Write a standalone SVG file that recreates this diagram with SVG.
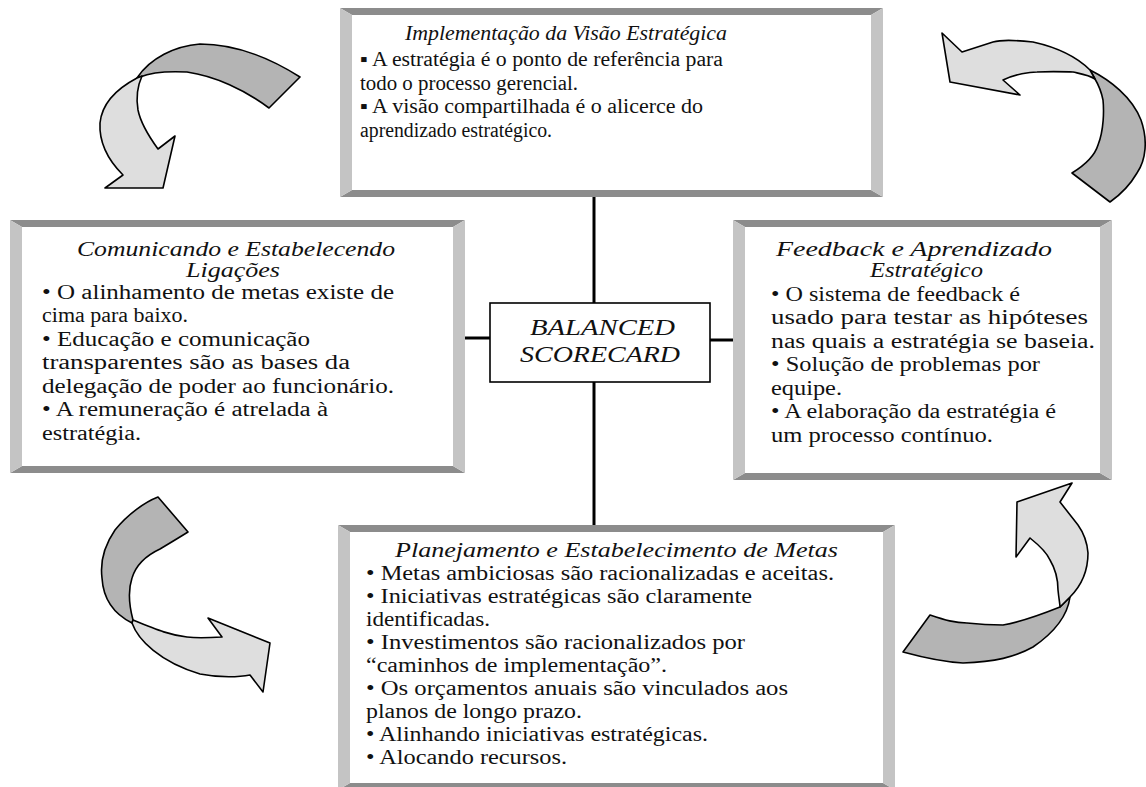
<svg xmlns="http://www.w3.org/2000/svg" width="1146" height="787" viewBox="0 0 1146 787">
  <style>
    .bg { fill: #ffffff; }
    .face { fill: #ffffff; }
    .edge-dark { fill: #8c8c8c; }
    .edge-light { fill: #c4c4c4; }
    text { font-family: 'Liberation Serif', 'DejaVu Serif', Tinos, 'Nimbus Roman', FreeSerif, 'Times New Roman', Times, serif; fill: #111; }
    .title { font-style: italic; font-size: 20px; }
    .body { font-size: 20px; }
    .core { font-style: italic; font-size: 23px; }
    .link { stroke: #000; stroke-width: 3; fill: none; }
    .tail { fill: #b4b4b4; stroke: #000; stroke-width: 1.6; stroke-linejoin: round; }
    .head { fill: #dedede; stroke: #000; stroke-width: 1.6; stroke-linejoin: round; }
  </style>

  <rect class="bg" x="0" y="0" width="1146" height="787"/>

  <!-- connectors from the central box to the four frames -->
  <g id="connectors">
    <line class="link" x1="594" y1="196" x2="594" y2="303"/>
    <line class="link" x1="594" y1="382" x2="594" y2="527"/>
    <line class="link" x1="464" y1="338" x2="490" y2="338"/>
    <line class="link" x1="710" y1="340" x2="734" y2="340"/>
  </g>

  <!-- top frame -->
  <g id="node-implementacao">
    <rect class="face" x="340" y="8" width="543" height="189"/>
    <polygon class="edge-dark" points="340,8 883,8 871,15 352,15"/>
    <polygon class="edge-dark" points="352,190 871,190 883,197 340,197"/>
    <polygon class="edge-light" points="340,8 352,15 352,190 340,197"/>
    <polygon class="edge-light" points="883,8 871,15 871,190 883,197"/>
    <text class="title" x="405" y="40" textLength="322" lengthAdjust="spacingAndGlyphs">Implementação da Visão Estratégica</text>
    <text class="body" x="360" y="66" textLength="363" lengthAdjust="spacingAndGlyphs">▪ A estratégia é o ponto de referência para</text>
    <text class="body" x="360" y="90" textLength="218" lengthAdjust="spacingAndGlyphs">todo o processo gerencial.</text>
    <text class="body" x="360" y="113" textLength="343" lengthAdjust="spacingAndGlyphs">▪ A visão compartilhada é o alicerce do</text>
    <text class="body" x="360" y="137" textLength="192" lengthAdjust="spacingAndGlyphs">aprendizado estratégico.</text>
  </g>

  <!-- left frame -->
  <g id="node-comunicando">
    <rect class="face" x="10" y="220" width="455" height="253"/>
    <polygon class="edge-dark" points="10,220 465,220 453,227 22,227"/>
    <polygon class="edge-dark" points="22,466 453,466 465,473 10,473"/>
    <polygon class="edge-light" points="10,220 22,227 22,466 10,473"/>
    <polygon class="edge-light" points="465,220 453,227 453,466 465,473"/>
    <text class="title" x="77" y="256" textLength="318" lengthAdjust="spacingAndGlyphs">Comunicando e Estabelecendo</text>
    <text class="title" x="186" y="277" textLength="94" lengthAdjust="spacingAndGlyphs">Ligações</text>
    <text class="body" x="42" y="299" textLength="352" lengthAdjust="spacingAndGlyphs">• O alinhamento de metas existe de</text>
    <text class="body" x="42" y="322" textLength="146" lengthAdjust="spacingAndGlyphs">cima para baixo.</text>
    <text class="body" x="42" y="346" textLength="268" lengthAdjust="spacingAndGlyphs">• Educação e comunicação</text>
    <text class="body" x="42" y="369" textLength="308" lengthAdjust="spacingAndGlyphs">transparentes são as bases da</text>
    <text class="body" x="42" y="393" textLength="352" lengthAdjust="spacingAndGlyphs">delegação de poder ao funcionário.</text>
    <text class="body" x="42" y="416" textLength="286" lengthAdjust="spacingAndGlyphs">• A remuneração é atrelada à</text>
    <text class="body" x="42" y="440" textLength="99" lengthAdjust="spacingAndGlyphs">estratégia.</text>
  </g>

  <!-- right frame -->
  <g id="node-feedback">
    <rect class="face" x="733" y="220" width="379" height="260"/>
    <polygon class="edge-dark" points="733,220 1112,220 1100,227 745,227"/>
    <polygon class="edge-dark" points="745,473 1100,473 1112,480 733,480"/>
    <polygon class="edge-light" points="733,220 745,227 745,473 733,480"/>
    <polygon class="edge-light" points="1112,220 1100,227 1100,473 1112,480"/>
    <text class="title" x="776" y="256" textLength="276" lengthAdjust="spacingAndGlyphs">Feedback e Aprendizado</text>
    <text class="title" x="870" y="277" textLength="113" lengthAdjust="spacingAndGlyphs">Estratégico</text>
    <text class="body" x="771" y="301" textLength="249" lengthAdjust="spacingAndGlyphs">• O sistema de feedback é</text>
    <text class="body" x="771" y="324" textLength="317" lengthAdjust="spacingAndGlyphs">usado para testar as hipóteses</text>
    <text class="body" x="771" y="348" textLength="324" lengthAdjust="spacingAndGlyphs">nas quais a estratégia se baseia.</text>
    <text class="body" x="771" y="371" textLength="269" lengthAdjust="spacingAndGlyphs">• Solução de problemas por</text>
    <text class="body" x="771" y="395" textLength="71" lengthAdjust="spacingAndGlyphs">equipe.</text>
    <text class="body" x="771" y="418" textLength="285" lengthAdjust="spacingAndGlyphs">• A elaboração da estratégia é</text>
    <text class="body" x="771" y="442" textLength="222" lengthAdjust="spacingAndGlyphs">um processo contínuo.</text>
  </g>

  <!-- bottom frame -->
  <g id="node-planejamento">
    <rect class="face" x="338" y="525" width="557" height="265"/>
    <polygon class="edge-dark" points="338,525 895,525 883,532 350,532"/>
    <polygon class="edge-dark" points="350,783 883,783 895,790 338,790"/>
    <polygon class="edge-light" points="338,525 350,532 350,783 338,790"/>
    <polygon class="edge-light" points="895,525 883,532 883,783 895,790"/>
    <text class="title" x="395" y="557" textLength="443" lengthAdjust="spacingAndGlyphs">Planejamento e Estabelecimento de Metas</text>
    <text class="body" x="366" y="580" textLength="468" lengthAdjust="spacingAndGlyphs">• Metas ambiciosas são racionalizadas e aceitas.</text>
    <text class="body" x="366" y="603" textLength="386" lengthAdjust="spacingAndGlyphs">• Iniciativas estratégicas são claramente</text>
    <text class="body" x="366" y="626" textLength="124" lengthAdjust="spacingAndGlyphs">identificadas.</text>
    <text class="body" x="366" y="649" textLength="379" lengthAdjust="spacingAndGlyphs">• Investimentos são racionalizados por</text>
    <text class="body" x="366" y="672" textLength="301" lengthAdjust="spacingAndGlyphs">“caminhos de implementação”.</text>
    <text class="body" x="366" y="695" textLength="422" lengthAdjust="spacingAndGlyphs">• Os orçamentos anuais são vinculados aos</text>
    <text class="body" x="366" y="718" textLength="216" lengthAdjust="spacingAndGlyphs">planos de longo prazo.</text>
    <text class="body" x="366" y="741" textLength="342" lengthAdjust="spacingAndGlyphs">• Alinhando iniciativas estratégicas.</text>
    <text class="body" x="366" y="764" textLength="201" lengthAdjust="spacingAndGlyphs">• Alocando recursos.</text>
  </g>

  <!-- central box -->
  <g id="node-bsc">
    <rect x="490" y="303" width="220" height="79" fill="#ffffff" stroke="#000" stroke-width="1.6"/>
    <text class="core" x="530" y="335" textLength="145" lengthAdjust="spacingAndGlyphs">BALANCED</text>
    <text class="core" x="520" y="362" textLength="160" lengthAdjust="spacingAndGlyphs">SCORECARD</text>
  </g>

  <!-- curved cycle arrows -->
  <g id="arrow-top-left">
    <path class="tail" d="M137,78 C150,58 175,46 200,44 C235,44 270,58 300,77 L269,108 C245,90 215,76 187,72 C168,71 152,72 140,77 Z"/>
    <path class="head" d="M137,78 C118,88 102,103 100,123 C99,142 108,160 123,175 L105,188 L163,188 L175,136 L158,149 C150,138 141,125 138,110 C136,98 137,87 142,76 Z"/>
  </g>

  <g id="arrow-top-right">
    <path class="tail" d="M1090,70 C1110,80 1132,97 1141,120 C1148,140 1146,160 1137,173 C1130,185 1120,195 1110,202 L1072,173 C1085,165 1095,155 1098,145 C1104,130 1104,110 1103,100 C1101,90 1098,84 1095,79 Z"/>
    <path class="head" d="M1090,70 C1078,58 1060,48 1033,42 C1015,40 1000,40 993,42 L962,52 L942,33 L950,82 L1020,95 L1003,80 C1015,74 1030,72 1037,72 C1055,71 1070,72 1073,72 C1082,74 1089,75 1095,79 Z"/>
  </g>

  <g id="arrow-bottom-left">
    <path class="tail" d="M158,497 C145,502 128,514 115,530 C104,546 100,562 102,578 C103,595 110,612 132,623 L133,620 C129,605 128,590 132,578 C136,565 145,556 160,549 C170,543 180,537 188,532 Z"/>
    <path class="head" d="M132,623 C138,640 160,662 200,674 C220,678 240,677 250,675 L263,692 L270,643 L208,618 L222,637 C205,638 195,638 187,637 C170,635 160,631 133,620 Z"/>
  </g>

  <g id="arrow-bottom-right">
    <path class="tail" d="M1070,597 C1068,612 1058,630 1033,647 C1015,657 995,662 963,663 C945,662 925,658 903,652 L930,615 C945,620 955,623 967,623 C985,625 995,625 1003,625 C1020,622 1035,617 1060,607 Z"/>
    <path class="head" d="M1070,597 C1082,585 1088,570 1088,553 C1087,540 1083,532 1078,525 L1060,502 L1072,483 L1017,502 L1016,557 L1030,538 C1040,546 1047,553 1050,560 C1056,570 1058,580 1058,590 C1059,600 1060,604 1060,607 Z"/>
  </g>
</svg>
